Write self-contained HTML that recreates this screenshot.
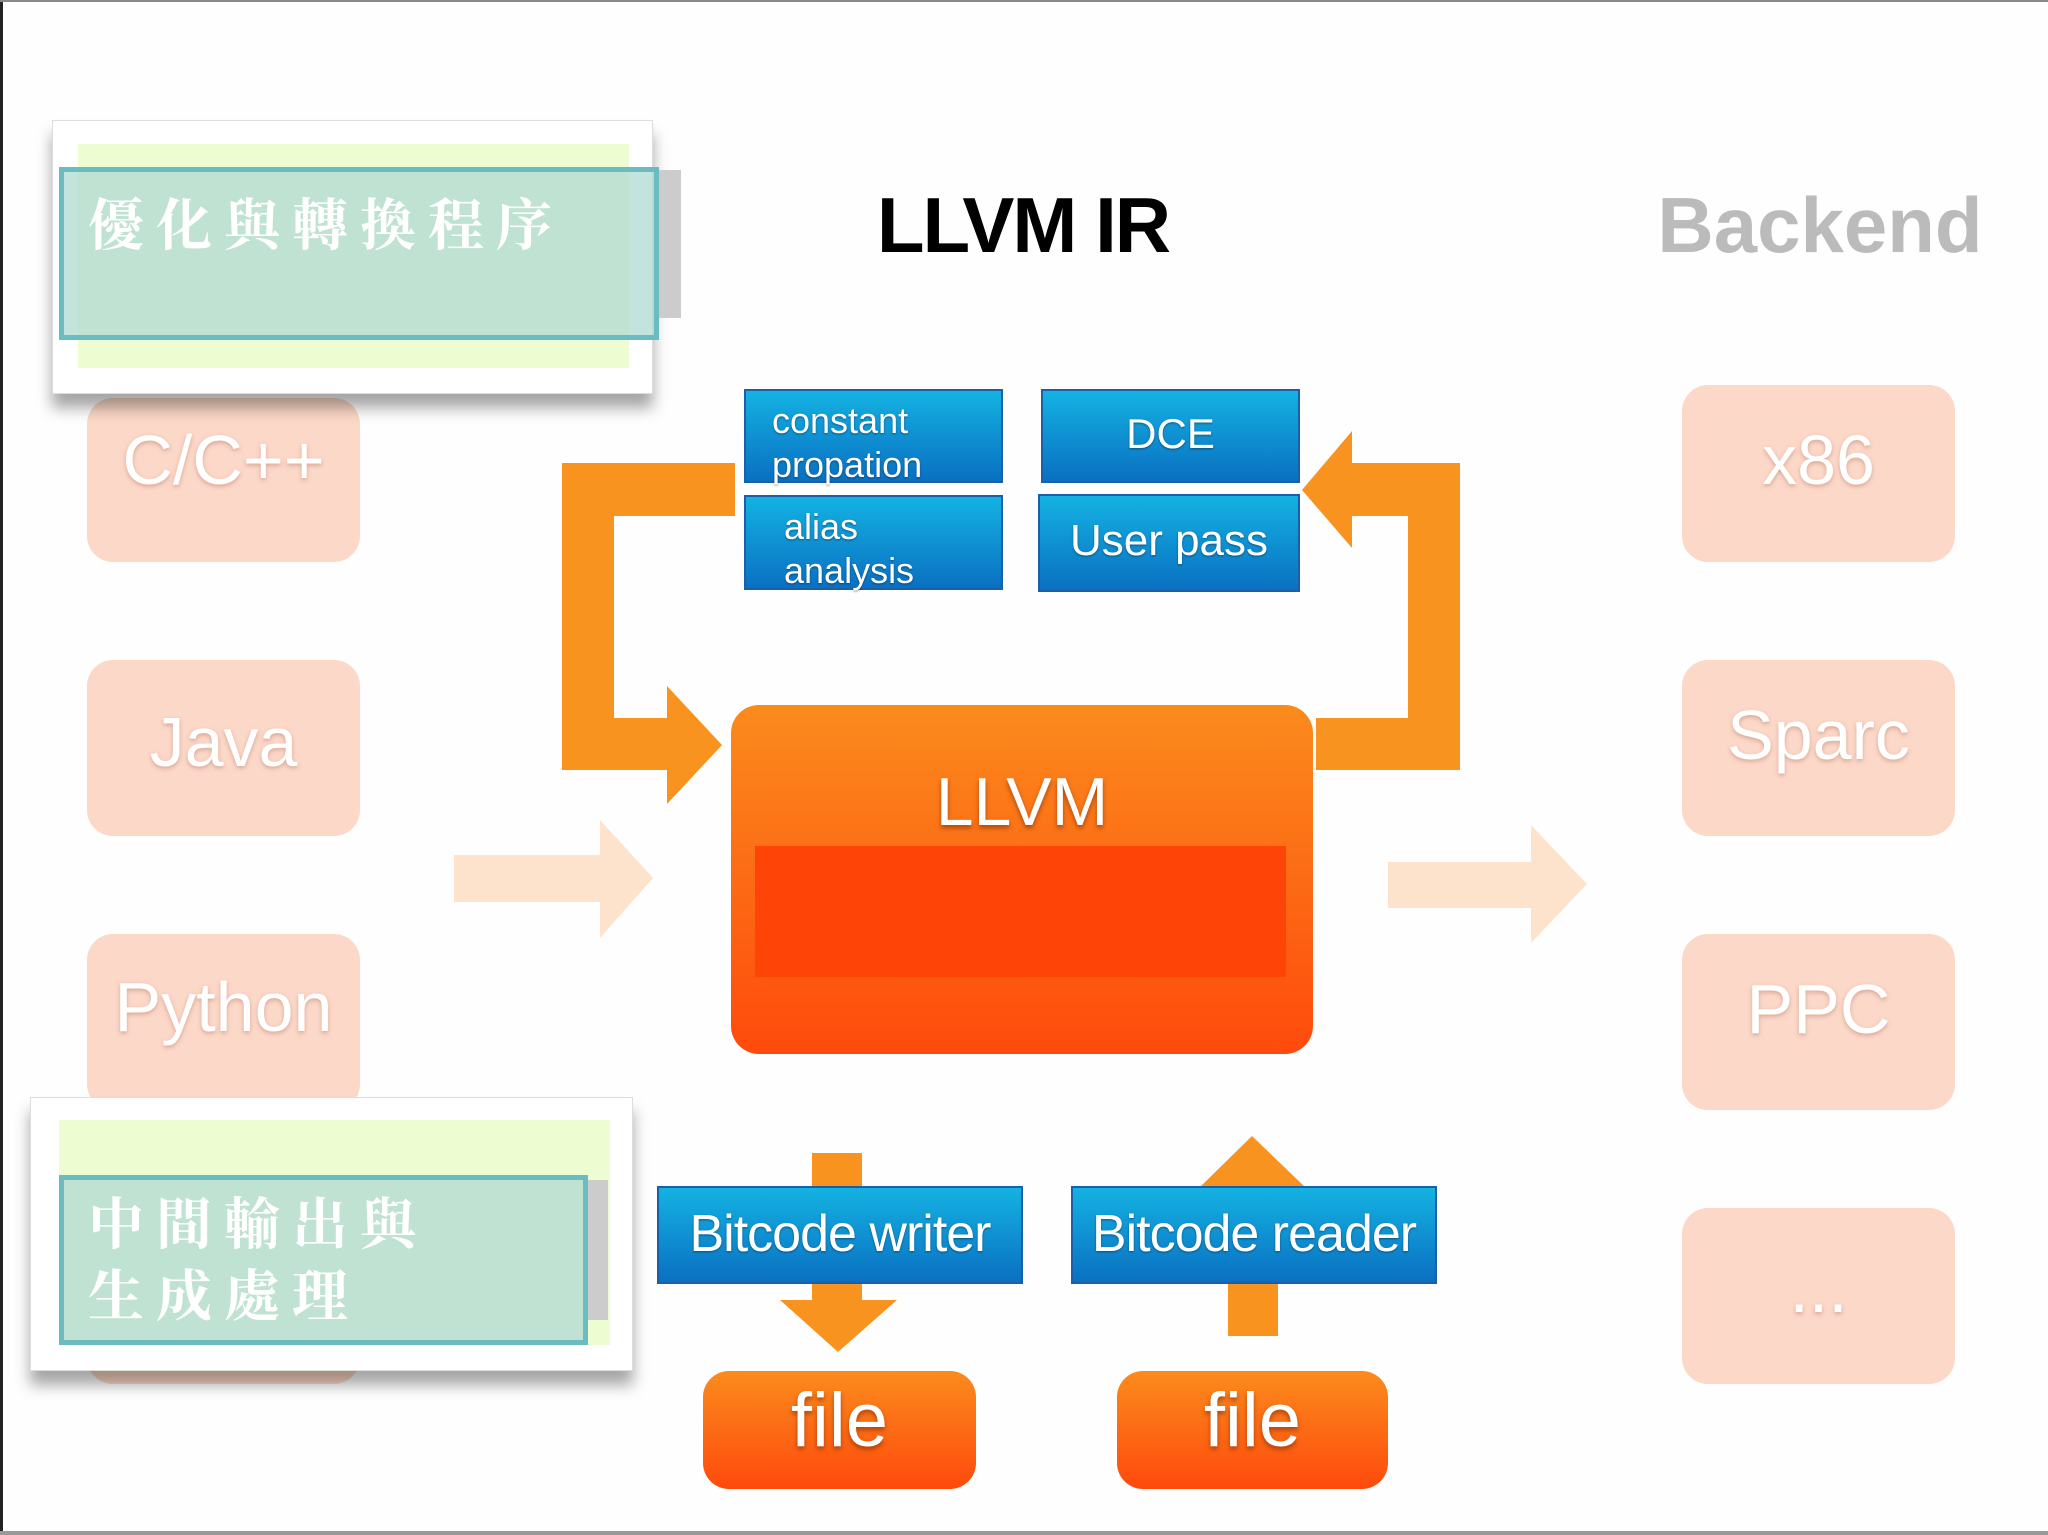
<!DOCTYPE html>
<html><head><meta charset="utf-8"><style>
*{margin:0;padding:0;box-sizing:border-box}
body{width:2048px;height:1535px;position:relative;overflow:hidden;background:#fefefe;font-family:"Liberation Sans",sans-serif}
.a{position:absolute}
.pale{position:absolute;background:#fcd8c8;border-radius:26px;color:#fff;font-size:70px;text-align:center;text-shadow:0 2px 4px rgba(180,120,100,.5)}
.blue{position:absolute;background:linear-gradient(#14b2e2,#0a70c2);border:2px solid #1a5fa8;color:#fff;font-size:36px;text-shadow:0 1px 2px rgba(0,0,0,.4);line-height:44px}
.org{position:absolute;background:linear-gradient(#fb8b1d,#fe4a0c);border-radius:26px;color:#fff;text-align:center;text-shadow:0 3px 5px rgba(120,40,0,.6)}
.cjk{font-family:"Liberation Serif","Noto Serif CJK SC","Noto Sans CJK TC",serif;color:#fff;font-size:56px;letter-spacing:12px;font-weight:bold}
</style></head><body>
<div class="a" style="left:0;top:0;width:3px;height:1535px;background:#222"></div>
<div class="a" style="left:0;top:0;width:2048px;height:2px;background:#888"></div>
<div class="a" style="left:0;top:1531px;width:2048px;height:4px;background:#999"></div>

<div class="a" style="left:823px;top:180px;width:400px;text-align:center;font-size:78px;font-weight:bold;color:#000;letter-spacing:-2px">LLVM IR</div>
<div class="a" style="left:1650px;top:180px;width:340px;text-align:center;font-size:78px;font-weight:bold;color:#bbb">Backend</div>

<div class="pale" style="left:87px;top:398px;width:273px;height:164px;line-height:124px">C/C++</div>
<div class="pale" style="left:87px;top:660px;width:273px;height:176px;line-height:164px">Java</div>
<div class="pale" style="left:87px;top:934px;width:273px;height:176px;line-height:146px">Python</div>
<div class="pale" style="left:87px;top:1208px;width:273px;height:176px"></div>
<div class="pale" style="left:1682px;top:385px;width:273px;height:177px;line-height:150px">x86</div>
<div class="pale" style="left:1682px;top:660px;width:273px;height:176px;line-height:150px">Sparc</div>
<div class="pale" style="left:1682px;top:934px;width:273px;height:176px;line-height:150px">PPC</div>
<div class="pale" style="left:1682px;top:1208px;width:273px;height:176px;line-height:160px">...</div>

<svg class="a" style="left:0;top:0" width="2048" height="1535">
<polygon points="454,855 600,855 600,820 653,878 600,938 600,902 454,902" fill="#fde3cc"/>
<polygon points="1388,862 1531,862 1531,825 1587,884 1531,943 1531,908 1388,908" fill="#fde3cc"/>
<polygon points="562,463 735,463 735,516 614,516 614,718 667,718 667,686 722,745 667,804 667,770 562,770" fill="#f7931e"/>
<polygon points="1460,463 1352,463 1352,431 1302,490 1352,548 1352,516 1408,516 1408,718 1316,718 1316,770 1460,770" fill="#f7931e"/>
<rect x="812" y="1153" width="50" height="40" fill="#f7931e"/>
<rect x="812" y="1280" width="50" height="22" fill="#f7931e"/>
<polygon points="780,1300 897,1300 838,1352" fill="#f7931e"/>
<polygon points="1199,1188 1306,1188 1252,1136" fill="#f7931e"/>
<rect x="1228" y="1280" width="50" height="56" fill="#f7931e"/>
</svg>

<div class="blue" style="left:744px;top:389px;width:259px;height:94px;padding:8px 0 0 26px">constant<br>propation</div>
<div class="blue" style="left:744px;top:495px;width:259px;height:95px;padding:8px 0 0 38px">alias<br>analysis</div>
<div class="blue" style="left:1041px;top:389px;width:259px;height:94px;text-align:center;line-height:86px;font-size:42px">DCE</div>
<div class="blue" style="left:1038px;top:494px;width:262px;height:98px;text-align:center;line-height:90px;font-size:44px">User pass</div>

<div class="org" style="left:731px;top:705px;width:582px;height:349px;border-radius:28px">
 <div style="font-size:68px;margin-top:58px">LLVM</div>
 <div class="a" style="left:24px;top:141px;width:531px;height:131px;background:#fe4406"></div>
</div>

<div class="blue" style="left:657px;top:1186px;width:366px;height:98px;text-align:center;line-height:92px;font-size:52px;letter-spacing:-1px">Bitcode writer</div>
<div class="blue" style="left:1071px;top:1186px;width:366px;height:98px;text-align:center;line-height:92px;font-size:52px;letter-spacing:-1px">Bitcode reader</div>

<div class="org" style="left:703px;top:1371px;width:273px;height:118px;font-size:76px;line-height:100px">file</div>
<div class="org" style="left:1117px;top:1371px;width:271px;height:118px;font-size:76px;line-height:100px">file</div>

<div class="a" style="left:52px;top:120px;width:601px;height:274px;background:#fff;border:1px solid #ddd;box-shadow:0 14px 14px rgba(0,0,0,.35)"></div>
<div class="a" style="left:78px;top:144px;width:551px;height:224px;background:#eefcd2"></div>
<div class="a" style="left:655px;top:170px;width:26px;height:148px;background:#ccc"></div>
<div class="a cjk" style="left:59px;top:167px;width:600px;height:173px;background:rgba(175,218,210,.75);border:5px solid #6bbcc0;padding:10px 0 0 24px">優化與轉換程序</div>
<div class="a" style="left:30px;top:1097px;width:603px;height:274px;background:#fff;border:1px solid #ddd;box-shadow:0 14px 14px rgba(0,0,0,.35)"></div>
<div class="a" style="left:59px;top:1120px;width:551px;height:225px;background:#eefcd2"></div>
<div class="a" style="left:588px;top:1180px;width:20px;height:140px;background:#ccc"></div>
<div class="a cjk" style="left:59px;top:1175px;width:529px;height:170px;background:rgba(175,218,210,.75);border:5px solid #6bbcc0;padding:10px 0 0 24px;line-height:72px">中間輸出與<br>生成處理</div>
</body></html>
